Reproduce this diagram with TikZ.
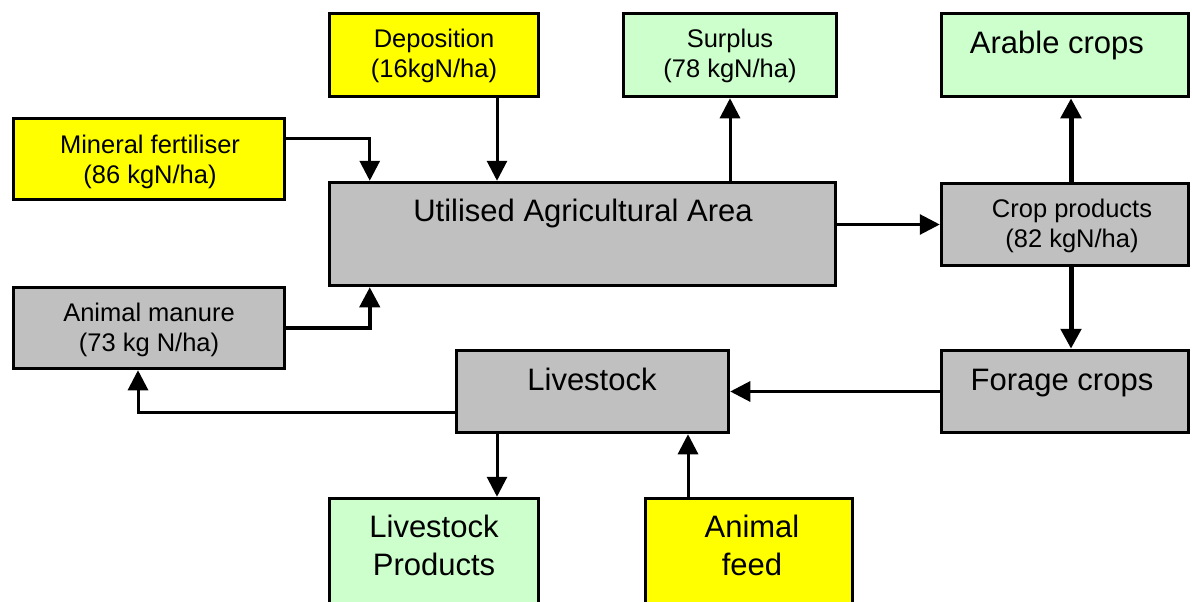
\documentclass[tikz,border=0pt]{standalone}
\usepackage{fontspec}
\setmainfont{Liberation Sans}
\usetikzlibrary{arrows.meta}
\definecolor{yellowbox}{RGB}{255,255,0}
\definecolor{greenbox}{RGB}{204,255,204}
\definecolor{greybox}{RGB}{192,192,192}

\begin{document}
\begin{tikzpicture}[x=1pt,y=-1pt,
  box/.style={draw,line width=3.5pt,inner sep=0pt},
  small/.style={font=\fontsize{25.5}{30}\selectfont,align=center,inner sep=0pt},
  big/.style={font=\fontsize{31}{38}\selectfont,align=center,inner sep=0pt},
  flow/.style={line width=3pt,-{Triangle[length=20pt,width=20pt]}}]
\clip (0,0) rectangle (1192,602);
\fill[white] (0,0) rectangle (1192,602);
% boxes
\node[box,fill=yellowbox,minimum width=209pt,minimum height=83pt] (dep) at (434,55) {};
\node[box,fill=greenbox,minimum width=213pt,minimum height=83pt] (surplus) at (730,55) {};
\node[box,fill=greenbox,minimum width=247pt,minimum height=83pt] (arable) at (1065,55) {};
\node[box,fill=yellowbox,minimum width=271pt,minimum height=81pt] (mineral) at (149,159) {};
\node[box,fill=greybox,minimum width=506pt,minimum height=103pt] (uaa) at (582.5,234) {};
\node[box,fill=greybox,minimum width=247pt,minimum height=82pt] (crop) at (1065,224.5) {};
\node[box,fill=greybox,minimum width=271pt,minimum height=81pt] (manure) at (149,328) {};
\node[box,fill=greybox,minimum width=272pt,minimum height=82pt] (livestock) at (592.5,391.5) {};
\node[box,fill=greybox,minimum width=247pt,minimum height=82pt] (forage) at (1065,391.5) {};
\node[box,fill=greenbox,minimum width=209pt,minimum height=140pt] (lsprod) at (434,568.5) {};
\node[box,fill=yellowbox,minimum width=207pt,minimum height=140pt] (feed) at (749,568.5) {};
% labels
\node[small] (deplbl) at (434,56.4) {Deposition\\(16kgN/ha)};
\node[small] (surpluslbl) at (730,56.4) {Surplus\\(78 kgN/ha)};
\node[big,anchor=base] (arablelbl) at (1057,54) {Arable crops};
\node[small] (minerallbl) at (150,162) {Mineral fertiliser\\(86 kgN/ha)};
\node[big,anchor=base] (uaalbl) at (583,221) {Utilised Agricultural Area};
\node[small] (croplbl) at (1072,226) {Crop products\\(82 kgN/ha)};
\node[small] (manurelbl) at (149,330.4) {Animal manure\\(73 kg N/ha)};
\node[big,anchor=base] (livestocklbl) at (592,390) {Livestock};
\node[big,anchor=base] (foragelbl) at (1062,390) {Forage crops};
\node[big] (lsprodlbl) at (434,545) {Livestock\\Products};
\node[big] (feedlbl) at (752,545) {Animal\\feed};
% flows into the area
\draw[flow] ([yshift=21pt]mineral.east) -| ([xshift=42pt]uaa.north west);
\draw[flow] ([xshift=63pt]dep.south) -- ([xshift=63pt]dep.south |- uaa.north);
\draw[flow,line width=4pt] (manure.east) -| ([xshift=42pt]uaa.south west);
% flows out of the area
\draw[flow] (surplus.south |- uaa.north) -- (surplus.south);
\draw[flow] (uaa.east |- crop.west) -- (crop.west);
\draw[flow,line width=5pt] ([xshift=6pt]crop.north) -- ([xshift=6pt]arable.south);
\draw[flow,line width=5pt] ([xshift=6pt]crop.south) -- ([xshift=6pt]forage.north);
% livestock
\draw[flow] (forage.west) -- (forage.west -| livestock.east);
\draw[flow] ([yshift=-21pt]livestock.west) -| ([xshift=-11pt]manure.south);
\draw[flow] ([xshift=63pt]lsprod.north |- livestock.south) -- ([xshift=63pt]lsprod.north);
\draw[flow] ([xshift=-61pt]feed.north) -- ([xshift=-61pt]feed.north |- livestock.south);
\end{tikzpicture}
\end{document}
